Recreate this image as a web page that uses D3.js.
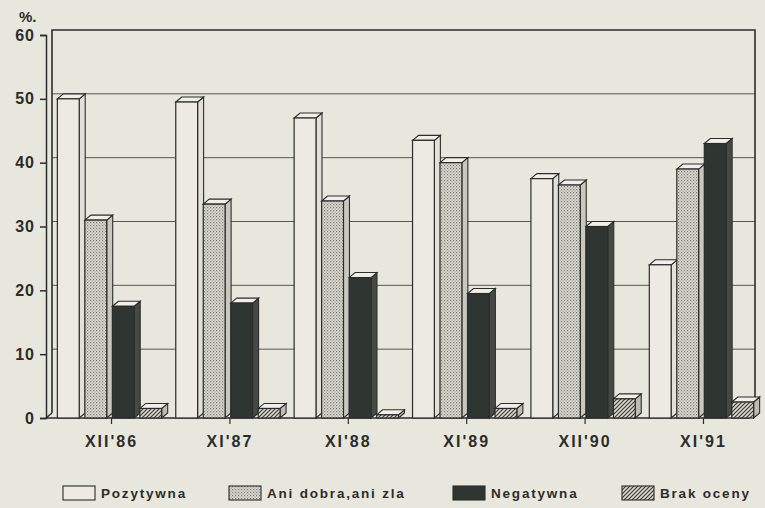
<!DOCTYPE html>
<html>
<head>
<meta charset="utf-8">
<script src="https://cdn.jsdelivr.net/npm/d3@7"></script>
<style>
  body { margin: 0; background: #e8e7de; }
  svg { display: block; font-family: "Liberation Sans", Arial, sans-serif; }
</style>
</head>
<body>
<script>
// survey periods
var categories = ["XII'86", "XI'87", "XI'88", "XI'89", "XII'90", "XI'91"];
var seriesNames = ["Pozytywna", "Ani dobra,ani zla", "Negatywna", "Brak oceny"];
var pozytywna = [50, 49.5, 47, 43.5, 37.5, 24];
var aniDobra = [31, 33.5, 34, 40, 36.5, 39];
var negatywna = [17.5, 18, 22, 19.5, 30, 43];
var brak = [1.5, 1.5, 0.5, 1.5, 3, 2.5];
var yTicks = [0, 10, 20, 30, 40, 50, 60];

var series = [pozytywna, aniDobra, negatywna, brak];
var width = 765, height = 508;
var depthX = 6, depthY = 5;
var ink = "#2b2d2a";

var svg = d3.select("body").append("svg")
  .attr("width", width)
  .attr("height", height);

// fills
var defs = svg.append("defs");
var dots = defs.append("pattern").attr("id", "dots")
  .attr("patternUnits", "userSpaceOnUse").attr("width", 3).attr("height", 3);
dots.append("rect").attr("width", 3).attr("height", 3).attr("fill", "#dcdbd2");
dots.append("rect").attr("x", 0).attr("y", 0).attr("width", 1.2).attr("height", 1.2).attr("fill", "#777974");
dots.append("rect").attr("x", 1.5).attr("y", 1.5).attr("width", 1.2).attr("height", 1.2).attr("fill", "#959790");

var hatch = defs.append("pattern").attr("id", "hatch")
  .attr("patternUnits", "userSpaceOnUse").attr("width", 4).attr("height", 4);
hatch.append("rect").attr("width", 4).attr("height", 4).attr("fill", "#d9d8cf");
hatch.append("path").attr("d", "M-1,5 L5,-1 M-1,1 L1,-1 M3,5 L5,3")
  .attr("stroke", "#3b3d39").attr("stroke-width", 1.2);

var fills = ["#eceae2", "url(#dots)", "#2f3531", "url(#hatch)"];
var sideFills = ["#e2e0d8", "#c9c8bf", "#454a45", "#bdbcb3"];

var x = d3.scaleBand().domain(categories).range([55, 760]).paddingInner(0.085).paddingOuter(0.02);
var xs = d3.scaleBand().domain(d3.range(series.length)).range([0, x.bandwidth()]).paddingInner(0.06);
var y = d3.scaleLinear().domain([0, 60]).range([418, 35]);

var left = 46, right = 755;

// back wall gridlines
svg.append("g").selectAll("line")
  .data(yTicks.slice(1, 6))
  .join("line")
  .attr("x1", left + depthX)
  .attr("x2", right)
  .attr("y1", function (d) { return y(d) - depthY; })
  .attr("y2", function (d) { return y(d) - depthY; })
  .attr("stroke", "#555751")
  .attr("stroke-width", 1);

// frame
svg.append("path")
  .attr("d", "M" + (left + depthX) + "," + (y(0) - depthY) +
    " L" + (left + depthX) + "," + (y(60) - depthY) +
    " L" + right + "," + (y(60) - depthY) +
    " L" + right + "," + (y(0) - depthY))
  .attr("fill", "none").attr("stroke", ink).attr("stroke-width", 1.6);

// floor
svg.append("path")
  .attr("d", "M" + left + "," + y(0) + " L" + (right - depthX) + "," + y(0) +
    " L" + right + "," + (y(0) - depthY) +
    " M" + left + "," + y(0) + " L" + (left + depthX) + "," + (y(0) - depthY))
  .attr("fill", "none").attr("stroke", ink).attr("stroke-width", 1.4);

// y axis
var yAxis = svg.append("g")
  .attr("transform", "translate(" + left + ",0)")
  .call(d3.axisLeft(y).tickValues(yTicks).tickSize(6).tickPadding(5));
yAxis.select(".domain").attr("stroke", ink).attr("stroke-width", 1.5);
yAxis.selectAll(".tick line").attr("stroke", ink).attr("stroke-width", 1.5);
yAxis.selectAll("text")
  .attr("fill", ink)
  .style("font-size", "16px")
  .style("font-weight", "bold")
  .style("letter-spacing", "1px");

svg.append("text")
  .attr("x", 19).attr("y", 22)
  .attr("fill", ink)
  .style("font-size", "15px")
  .style("font-weight", "bold")
  .text("%.");

// x axis
var xAxis = svg.append("g")
  .attr("transform", "translate(0," + y(0) + ")")
  .call(d3.axisBottom(x).tickSize(6).tickPadding(12));
xAxis.select(".domain").remove();
xAxis.selectAll(".tick line").attr("stroke", ink).attr("stroke-width", 1.2);
xAxis.selectAll("text")
  .attr("fill", ink)
  .style("font-size", "16px")
  .style("font-weight", "bold")
  .style("letter-spacing", "2px");

// 3d bars
var bars = [];
categories.forEach(function (c, i) {
  series.forEach(function (s, j) {
    bars.push({ cat: c, k: j, value: s[i] });
  });
});

var barG = svg.append("g").selectAll("g")
  .data(bars)
  .join("g");

barG.each(function (d) {
  var g = d3.select(this);
  var x0 = x(d.cat) + xs(d.k);
  var w = xs.bandwidth() - depthX + 2;
  var y0 = y(d.value);
  var yb = y(0);
  // side face
  g.append("path")
    .attr("d", "M" + (x0 + w) + "," + yb +
      " L" + (x0 + w) + "," + y0 +
      " L" + (x0 + w + depthX) + "," + (y0 - depthY) +
      " L" + (x0 + w + depthX) + "," + (yb - depthY) + "Z")
    .attr("fill", sideFills[d.k]).attr("stroke", ink).attr("stroke-width", 1.1);
  // top face
  g.append("path")
    .attr("d", "M" + x0 + "," + y0 +
      " L" + (x0 + depthX) + "," + (y0 - depthY) +
      " L" + (x0 + w + depthX) + "," + (y0 - depthY) +
      " L" + (x0 + w) + "," + y0 + "Z")
    .attr("fill", "#f1efe8").attr("stroke", ink).attr("stroke-width", 1.1);
  // front face
  g.append("rect")
    .attr("x", x0).attr("y", y0)
    .attr("width", w).attr("height", yb - y0)
    .attr("fill", fills[d.k]).attr("stroke", ink).attr("stroke-width", 1.2);
});

// legend
var legendX = [63, 229, 453, 622];
var legend = svg.append("g").selectAll("g")
  .data(seriesNames)
  .join("g")
  .attr("transform", function (d, i) { return "translate(" + legendX[i] + ",486)"; });
legend.append("rect")
  .attr("width", 32).attr("height", 14)
  .attr("fill", function (d, i) { return fills[i]; })
  .attr("stroke", ink).attr("stroke-width", 1.1);
legend.append("text")
  .attr("x", 38).attr("y", 12)
  .attr("fill", ink)
  .style("font-size", "13.5px")
  .style("font-weight", "bold")
  .style("letter-spacing", "1.8px")
  .text(function (d) { return d; });
</script>
</body>
</html>
